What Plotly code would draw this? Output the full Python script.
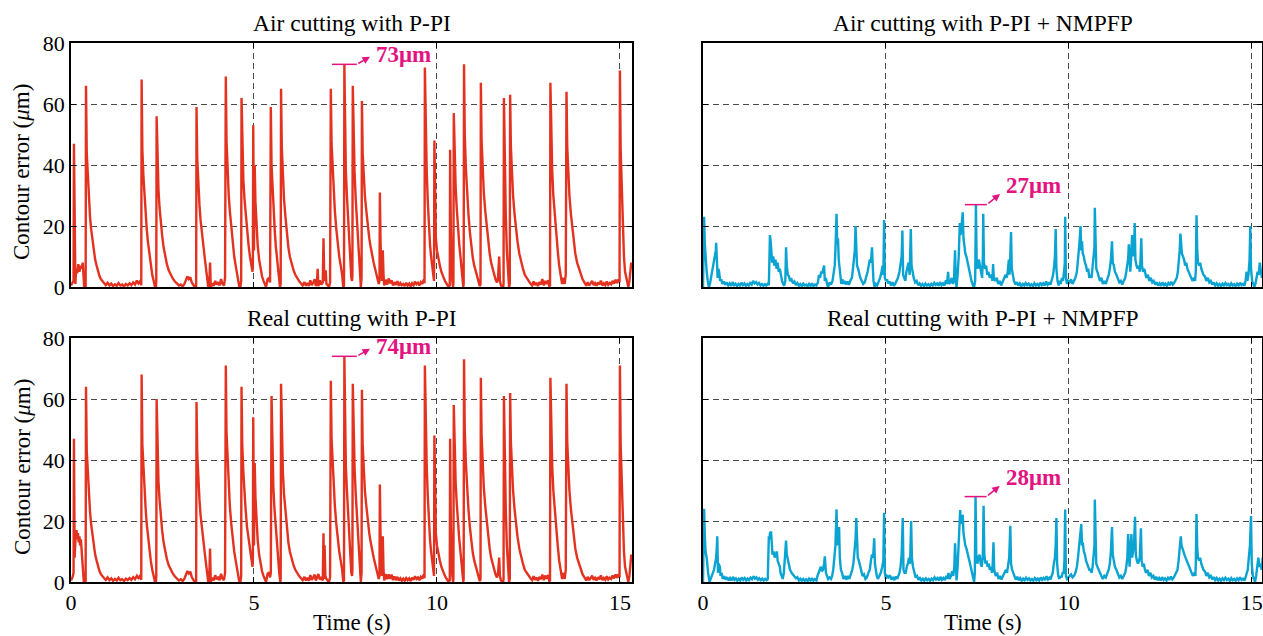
import plotly.graph_objects as go

# ---- measured contour error, (time s, error um) ----
air_ppi = [
    (0.00, 0.5), (0.04, 1.2), (0.07, 2), (0.08, 47), (0.10, 9), (0.12, 1), (0.14, 6), (0.17, 4.5),
    (0.20, 7.5), (0.23, 5), (0.26, 7), (0.29, 6), (0.32, 8), (0.34, 3), (0.36, 0), (0.40, 0),
    (0.41, 66), (0.43, 44), (0.46, 36), (0.49, 28), (0.52, 23), (0.55, 19), (0.58, 16), (0.62, 12),
    (0.66, 9), (0.70, 7), (0.74, 5), (0.78, 3.5), (0.82, 2.5), (0.86, 1.8), (0.90, 1.2),
    (0.95, 0.6), (1.00, 1.4), (1.05, 0.5), (1.10, 1.1), (1.15, 0.3), (1.20, 0.9), (1.25, 0.4),
    (1.30, 1.3), (1.35, 0.5), (1.40, 0.8), (1.45, 0.2), (1.50, 1.0), (1.55, 0.5), (1.60, 1.2),
    (1.65, 0.6), (1.70, 1.5), (1.75, 0.8), (1.80, 2.1), (1.84, 1.2), (1.88, 1.8), (1.92, 0.6),
    (1.93, 68), (1.95, 45), (1.98, 36), (2.01, 29), (2.04, 24), (2.07, 19), (2.10, 15), (2.14, 11),
    (2.18, 7), (2.22, 4), (2.26, 2), (2.29, 0.3), (2.32, 0), (2.33, 2),
    (2.34, 56), (2.36, 40), (2.39, 32), (2.42, 26), (2.45, 21), (2.49, 17), (2.53, 13), (2.57, 10),
    (2.62, 7.5), (2.67, 5.5), (2.72, 4), (2.78, 2.8), (2.84, 1.8), (2.90, 1.1), (2.95, 0.5),
    (3.00, 0.8), (3.05, 0.2), (3.10, 1.0), (3.14, 2.2), (3.18, 3.5), (3.22, 2.6), (3.26, 3.2),
    (3.30, 1.5), (3.34, 0.5), (3.38, 0), (3.42, 0),
    (3.43, 59), (3.45, 42), (3.48, 33), (3.51, 27), (3.54, 22), (3.58, 17), (3.62, 13), (3.66, 9),
    (3.70, 5), (3.73, 1), (3.75, 0), (3.78, 1.5), (3.80, 8), (3.82, 0), (3.86, 1.2), (3.90, 0.4),
    (3.94, 2), (3.98, 0.8), (4.02, 1.6), (4.06, 0.5), (4.10, 2.6), (4.14, 1.0), (4.18, 0.5), (4.21, 3),
    (4.23, 69), (4.25, 48), (4.28, 38), (4.31, 30), (4.34, 25), (4.38, 19), (4.42, 14), (4.46, 10),
    (4.50, 7), (4.54, 4), (4.57, 1.5), (4.60, 0), (4.63, 0), (4.65, 2),
    (4.66, 62), (4.68, 44), (4.71, 35), (4.74, 29), (4.77, 24), (4.81, 18), (4.85, 14), (4.89, 10),
    (4.93, 7), (4.96, 5), (4.97, 8),
    (4.98, 53), (5.00, 12), (5.01, 30), (5.02, 40), (5.04, 28), (5.07, 20), (5.10, 14), (5.14, 9),
    (5.18, 6), (5.22, 3.5), (5.26, 2), (5.30, 0.5), (5.33, 0), (5.37, 2.5), (5.41, 3), (5.44, 1.5),
    (5.46, 59), (5.48, 40), (5.51, 31), (5.54, 24), (5.57, 18), (5.60, 13), (5.64, 9), (5.68, 4),
    (5.71, 0), (5.73, 1),
    (5.74, 65), (5.76, 46), (5.79, 36), (5.82, 29), (5.86, 23), (5.90, 17), (5.94, 13), (5.98, 10),
    (6.03, 7.5), (6.08, 5.5), (6.13, 4), (6.18, 2.8), (6.23, 2), (6.28, 1.2), (6.33, 0.5), (6.38, 1.6),
    (6.42, 0.4), (6.46, 1.3), (6.50, 0.3), (6.54, 2.2), (6.58, 0.6), (6.62, 1.4), (6.66, 2.6),
    (6.69, 0.4), (6.72, 1), (6.74, 6), (6.76, 0.3), (6.80, 2.2), (6.84, 0.8), (6.88, 1.5),
    (6.90, 16), (6.92, 3), (6.94, 2), (6.96, 5.5), (6.98, 1), (7.02, 0.5), (7.05, 0), (7.08, 1.5),
    (7.10, 65), (7.12, 47), (7.15, 38), (7.18, 30), (7.21, 25), (7.25, 19), (7.29, 14), (7.33, 10),
    (7.37, 7), (7.41, 4), (7.44, 0), (7.46, 0.5),
    (7.47, 73), (7.49, 48), (7.51, 38), (7.54, 30), (7.57, 22), (7.60, 14), (7.63, 7), (7.66, 3),
    (7.68, 2), (7.69, 4),
    (7.70, 66), (7.72, 47), (7.75, 37), (7.78, 29), (7.81, 22), (7.84, 15), (7.87, 8), (7.90, 2),
    (7.92, 0), (7.94, 3),
    (7.95, 61), (7.97, 44), (8.00, 36), (8.03, 30), (8.07, 25), (8.11, 20), (8.15, 16), (8.19, 13),
    (8.23, 10), (8.27, 8), (8.31, 6), (8.35, 4), (8.38, 2.5), (8.41, 1), (8.43, 2),
    (8.44, 31), (8.46, 14), (8.48, 5), (8.50, 2), (8.51, 6), (8.52, 12), (8.54, 4), (8.56, 0.5),
    (8.60, 2.4), (8.64, 0.8), (8.68, 2.8), (8.72, 1.2), (8.76, 2.2), (8.80, 0.5), (8.84, 1.6),
    (8.88, 0.7), (8.92, 1.9), (8.96, 0.4), (9.00, 1.3), (9.04, 0.6), (9.08, 1.0), (9.12, 0.3),
    (9.16, 1.4), (9.20, 0.5), (9.24, 1.1), (9.28, 0.2), (9.32, 1.2), (9.36, 0.6), (9.40, 1.8),
    (9.44, 0.9), (9.48, 1.4), (9.52, 0.5), (9.56, 1.6), (9.60, 1.0), (9.64, 2.4), (9.66, 1.2),
    (9.67, 72), (9.69, 50), (9.72, 38), (9.75, 28), (9.78, 20), (9.81, 14), (9.84, 10), (9.87, 7),
    (9.90, 4), (9.92, 2),
    (9.93, 48), (9.95, 25), (9.97, 16), (10.00, 12), (10.04, 9), (10.08, 7), (10.12, 5), (10.16, 3.5),
    (10.20, 2.5), (10.24, 1.5), (10.28, 0.5), (10.32, 0), (10.35, 0.5),
    (10.36, 45), (10.38, 18), (10.40, 6), (10.42, 2), (10.44, 0), (10.45, 1),
    (10.46, 57), (10.48, 42), (10.51, 33), (10.54, 26), (10.57, 20), (10.61, 14), (10.65, 9),
    (10.69, 4), (10.72, 0), (10.73, 1),
    (10.74, 73), (10.76, 50), (10.79, 39), (10.82, 31), (10.86, 24), (10.90, 18), (10.94, 13),
    (10.98, 9.5), (11.02, 7), (11.06, 5), (11.10, 3), (11.14, 1.5), (11.17, 0.3), (11.19, 1),
    (11.20, 67), (11.22, 48), (11.25, 38), (11.28, 31), (11.32, 25), (11.36, 20), (11.40, 15),
    (11.44, 11), (11.48, 8), (11.52, 6), (11.56, 4), (11.60, 2.5), (11.64, 1.5), (11.67, 3),
    (11.70, 10), (11.72, 2), (11.75, 0.5), (11.78, 0), (11.81, 0), (11.82, 1),
    (11.83, 62), (11.85, 40), (11.88, 24), (11.91, 12), (11.94, 5), (11.97, 0), (11.99, 1),
    (12.00, 63), (12.02, 46), (12.05, 37), (12.08, 30), (12.12, 24), (12.16, 19), (12.20, 15),
    (12.25, 11), (12.30, 8), (12.35, 6), (12.40, 4), (12.45, 3), (12.50, 2), (12.55, 1.2),
    (12.60, 0.5), (12.64, 1.8), (12.68, 0.6), (12.72, 1.4), (12.76, 0.3), (12.80, 1.6), (12.84, 0.8),
    (12.88, 2.6), (12.92, 0.5), (12.96, 2.0), (13.00, 1.0), (13.04, 2.2), (13.07, 0.3), (13.09, 0.5),
    (13.10, 67), (13.12, 48), (13.15, 38), (13.18, 30), (13.22, 23), (13.26, 17), (13.30, 12),
    (13.34, 7), (13.38, 3), (13.42, 1), (13.46, 3), (13.49, 1), (13.52, 4),
    (13.54, 64), (13.56, 46), (13.59, 37), (13.62, 30), (13.66, 24), (13.70, 19), (13.74, 15),
    (13.78, 11), (13.83, 8), (13.88, 6), (13.93, 4), (13.98, 2.5), (14.03, 1.5), (14.08, 0.4),
    (14.12, 1.6), (14.16, 0.5), (14.20, 1.2), (14.24, 2.0), (14.28, 0.6), (14.32, 1.3), (14.36, 0.4),
    (14.40, 1.5), (14.44, 0.8), (14.48, 2.1), (14.52, 0.5), (14.56, 1.2), (14.60, 0.6), (14.64, 1.8),
    (14.68, 0.7), (14.72, 1.3), (14.76, 0.9), (14.80, 2.0), (14.84, 1.1), (14.88, 2.4), (14.92, 1.3),
    (14.96, 2.5), (14.99, 1.5),
    (15.00, 71), (15.02, 45), (15.05, 30), (15.08, 18), (15.11, 10), (15.14, 5), (15.17, 3),
    (15.20, 1.5), (15.23, 0), (15.26, 2), (15.29, 5), (15.31, 8), (15.33, 6),
]

real_ppi = [
    (0.00, 0.5), (0.04, 1.5), (0.07, 3), (0.08, 47), (0.10, 8), (0.11, 12), (0.13, 16), (0.15, 17),
    (0.17, 14), (0.19, 16), (0.21, 13), (0.23, 15), (0.25, 12), (0.27, 14), (0.29, 10), (0.31, 7),
    (0.33, 3), (0.35, 0), (0.40, 0),
    (0.41, 64), (0.43, 43), (0.46, 35), (0.49, 28), (0.52, 23), (0.55, 19), (0.58, 16), (0.62, 12),
    (0.66, 9), (0.70, 7), (0.74, 5), (0.78, 3.5), (0.82, 2.5), (0.86, 1.8), (0.90, 1.3),
    (0.95, 0.7), (1.00, 1.5), (1.05, 0.6), (1.10, 1.2), (1.15, 0.4), (1.20, 1.0), (1.25, 0.5),
    (1.30, 1.4), (1.35, 0.6), (1.40, 0.9), (1.45, 0.3), (1.50, 1.1), (1.55, 0.6), (1.60, 1.3),
    (1.65, 0.7), (1.70, 1.6), (1.75, 0.9), (1.80, 2.0), (1.84, 1.3), (1.88, 1.9), (1.92, 0.7),
    (1.93, 68), (1.95, 45), (1.98, 36), (2.01, 29), (2.04, 24), (2.07, 19), (2.10, 15), (2.14, 11),
    (2.18, 7), (2.22, 4), (2.26, 2), (2.29, 0.3), (2.32, 0), (2.33, 2),
    (2.34, 60), (2.36, 42), (2.39, 33), (2.42, 27), (2.45, 22), (2.49, 17), (2.53, 13), (2.57, 10),
    (2.62, 7.5), (2.67, 5.5), (2.72, 4), (2.78, 2.8), (2.84, 1.8), (2.90, 1.1), (2.95, 0.5),
    (3.00, 0.9), (3.05, 0.3), (3.10, 1.1), (3.14, 2.4), (3.18, 3.6), (3.22, 2.8), (3.26, 3.4),
    (3.30, 1.6), (3.34, 0.5), (3.38, 0), (3.42, 0),
    (3.43, 59), (3.45, 42), (3.48, 33), (3.51, 27), (3.54, 22), (3.58, 17), (3.62, 13), (3.66, 9),
    (3.70, 5), (3.73, 1), (3.75, 0), (3.78, 2), (3.80, 11), (3.82, 0), (3.86, 1.4), (3.90, 0.5),
    (3.94, 2.2), (3.98, 0.9), (4.02, 1.7), (4.06, 0.6), (4.10, 2.7), (4.14, 1.1), (4.18, 0.6), (4.21, 3),
    (4.23, 71), (4.25, 49), (4.28, 39), (4.31, 31), (4.34, 25), (4.38, 19), (4.42, 14), (4.46, 10),
    (4.50, 7), (4.54, 4), (4.57, 1.5), (4.60, 0), (4.63, 0), (4.65, 2),
    (4.66, 64), (4.68, 45), (4.71, 36), (4.74, 29), (4.77, 24), (4.81, 18), (4.85, 14), (4.89, 10),
    (4.93, 7), (4.96, 5), (4.97, 8),
    (4.98, 54), (5.00, 12), (5.01, 30), (5.02, 39), (5.04, 28), (5.07, 20), (5.10, 14), (5.14, 9),
    (5.18, 6), (5.22, 3.5), (5.26, 2), (5.30, 0.5), (5.33, 0), (5.37, 2.6), (5.41, 3.2), (5.44, 1.5),
    (5.46, 3),
    (5.48, 61), (5.50, 41), (5.53, 31), (5.56, 24), (5.59, 18), (5.62, 13), (5.66, 8), (5.69, 3),
    (5.72, 0), (5.73, 1),
    (5.74, 65), (5.76, 46), (5.79, 36), (5.82, 29), (5.86, 23), (5.90, 17), (5.94, 13), (5.98, 10),
    (6.03, 7.5), (6.08, 5.5), (6.13, 4), (6.18, 2.8), (6.23, 2), (6.28, 1.3), (6.33, 0.6), (6.38, 1.7),
    (6.42, 0.5), (6.46, 1.4), (6.50, 0.4), (6.54, 2.3), (6.58, 0.7), (6.62, 1.5), (6.66, 2.4),
    (6.69, 0.5), (6.72, 1.2), (6.76, 2.6), (6.80, 0.8), (6.84, 1.6), (6.88, 0.5),
    (6.90, 16), (6.91, 3), (6.92, 1), (6.93, 12), (6.95, 2), (6.98, 1), (7.02, 0.5), (7.05, 0),
    (7.08, 1.5),
    (7.10, 66), (7.12, 47), (7.15, 38), (7.18, 30), (7.21, 25), (7.25, 19), (7.29, 14), (7.33, 10),
    (7.37, 7), (7.41, 4), (7.44, 0), (7.46, 0.5),
    (7.47, 74), (7.49, 48), (7.51, 38), (7.54, 30), (7.57, 22), (7.60, 14), (7.63, 7), (7.66, 3),
    (7.68, 2), (7.69, 4),
    (7.70, 65), (7.72, 47), (7.75, 37), (7.78, 29), (7.81, 22), (7.84, 15), (7.87, 8), (7.90, 2),
    (7.92, 0), (7.94, 3),
    (7.95, 63), (7.97, 45), (8.00, 37), (8.03, 30), (8.07, 25), (8.11, 20), (8.15, 16), (8.19, 13),
    (8.23, 10), (8.27, 8), (8.31, 6), (8.35, 4), (8.38, 2.5), (8.41, 1), (8.43, 2),
    (8.44, 32), (8.46, 14), (8.48, 5), (8.50, 2), (8.51, 8), (8.52, 15), (8.54, 4), (8.56, 0.5),
    (8.60, 2.6), (8.64, 0.9), (8.68, 2.5), (8.72, 1.0), (8.76, 2.4), (8.80, 0.6), (8.84, 1.8),
    (8.88, 0.6), (8.92, 1.7), (8.96, 0.5), (9.00, 1.2), (9.04, 0.4), (9.08, 1.1), (9.12, 0.4),
    (9.16, 1.3), (9.20, 0.6), (9.24, 1.2), (9.28, 0.3), (9.32, 1.4), (9.36, 0.7), (9.40, 1.9),
    (9.44, 1.0), (9.48, 1.5), (9.52, 0.6), (9.56, 1.7), (9.60, 1.1), (9.64, 2.5), (9.66, 1.2),
    (9.67, 71), (9.69, 50), (9.72, 38), (9.75, 28), (9.78, 20), (9.81, 14), (9.84, 10), (9.87, 7),
    (9.90, 4), (9.92, 2),
    (9.93, 48), (9.95, 25), (9.97, 16), (10.00, 12), (10.04, 9), (10.08, 7), (10.12, 5), (10.16, 3.5),
    (10.20, 2.5), (10.24, 1.5), (10.28, 0.5), (10.32, 0), (10.35, 0.5),
    (10.36, 47), (10.38, 18), (10.40, 6), (10.42, 2), (10.44, 0), (10.45, 1),
    (10.46, 58), (10.48, 42), (10.51, 33), (10.54, 26), (10.57, 20), (10.61, 14), (10.65, 9),
    (10.69, 4), (10.72, 0), (10.73, 1),
    (10.74, 73), (10.76, 50), (10.79, 39), (10.82, 31), (10.86, 24), (10.90, 18), (10.94, 13),
    (10.98, 9.5), (11.02, 7), (11.06, 5), (11.10, 3), (11.14, 1.5), (11.17, 0.3), (11.19, 1),
    (11.20, 67), (11.22, 48), (11.25, 38), (11.28, 31), (11.32, 25), (11.36, 20), (11.40, 15),
    (11.44, 11), (11.48, 8), (11.52, 6), (11.56, 4), (11.60, 2.5), (11.64, 1.5), (11.67, 3),
    (11.70, 8), (11.72, 2), (11.75, 0.5), (11.78, 0), (11.81, 0), (11.82, 1),
    (11.83, 61), (11.85, 40), (11.88, 24), (11.91, 12), (11.94, 5), (11.97, 0), (11.99, 1),
    (12.00, 62), (12.02, 46), (12.05, 37), (12.08, 30), (12.12, 24), (12.16, 19), (12.20, 15),
    (12.25, 11), (12.30, 8), (12.35, 6), (12.40, 4), (12.45, 3), (12.50, 2), (12.55, 1.3),
    (12.60, 0.6), (12.64, 1.9), (12.68, 0.7), (12.72, 1.5), (12.76, 0.4), (12.80, 1.7), (12.84, 0.9),
    (12.88, 2.4), (12.92, 0.6), (12.96, 2.1), (13.00, 1.1), (13.04, 2.3), (13.07, 0.3), (13.09, 0.5),
    (13.10, 67), (13.12, 48), (13.15, 38), (13.18, 30), (13.22, 23), (13.26, 17), (13.30, 12),
    (13.34, 7), (13.38, 3), (13.42, 1), (13.46, 3), (13.49, 1), (13.52, 4),
    (13.54, 65), (13.56, 46), (13.59, 37), (13.62, 30), (13.66, 24), (13.70, 19), (13.74, 15),
    (13.78, 11), (13.83, 8), (13.88, 6), (13.93, 4), (13.98, 2.5), (14.03, 1.5), (14.08, 0.5),
    (14.12, 1.7), (14.16, 0.6), (14.20, 1.3), (14.24, 2.1), (14.28, 0.7), (14.32, 1.4), (14.36, 0.5),
    (14.40, 1.6), (14.44, 0.9), (14.48, 2.2), (14.52, 0.6), (14.56, 1.3), (14.60, 0.7), (14.64, 1.9),
    (14.68, 0.8), (14.72, 1.4), (14.76, 1.0), (14.80, 2.1), (14.84, 1.2), (14.88, 2.5), (14.92, 1.4),
    (14.96, 2.6), (14.99, 1.5),
    (15.00, 71), (15.02, 45), (15.05, 30), (15.08, 18), (15.11, 10), (15.14, 5), (15.17, 3),
    (15.20, 1.5), (15.23, 0), (15.26, 2), (15.29, 6), (15.31, 9), (15.33, 7),
]

air_nmpfp = [
    (0.00, 0), (0.02, 10), (0.03, 23), (0.05, 14), (0.07, 9), (0.10, 5), (0.13, 2), (0.16, 0),
    (0.19, 1), (0.22, 3), (0.25, 6), (0.28, 8), (0.31, 9), (0.33, 11), (0.35, 12), (0.36, 14.5),
    (0.38, 6), (0.40, 3), (0.42, 6), (0.44, 5), (0.47, 2), (0.50, 2.5), (0.53, 1), (0.57, 1.8),
    (0.61, 0.7), (0.65, 1.5), (0.69, 0.5), (0.73, 1.2), (0.77, 0.4), (0.81, 1.6), (0.85, 0.6),
    (0.89, 1.1), (0.93, 0.3), (0.97, 1.0), (1.01, 0.5), (1.05, 1.4), (1.09, 0.6), (1.13, 1.2),
    (1.17, 0.4), (1.21, 1.0), (1.25, 0.5), (1.29, 1.3), (1.33, 0.8), (1.37, 2.0), (1.41, 1.2),
    (1.45, 1.6), (1.49, 0.8), (1.53, 1.3), (1.57, 0.5), (1.61, 1.0), (1.65, 0.4), (1.69, 0.9),
    (1.73, 0.5), (1.77, 1.1), (1.80, 0.6),
    (1.82, 14), (1.83, 17), (1.85, 15), (1.87, 12), (1.89, 8), (1.92, 10), (1.95, 7), (1.98, 9),
    (2.01, 6), (2.04, 8), (2.07, 5), (2.10, 6), (2.13, 3), (2.16, 2), (2.19, 1), (2.22, 0.5),
    (2.25, 2), (2.27, 13), (2.29, 7), (2.32, 4), (2.35, 3.5), (2.38, 2), (2.42, 2.5), (2.46, 1.2),
    (2.50, 1.8), (2.54, 0.6), (2.58, 1.3), (2.62, 0.4), (2.66, 1.0), (2.70, 0.3), (2.74, 1.1),
    (2.78, 0.5), (2.82, 0.8), (2.86, 0.2), (2.90, 1.0), (2.94, 0.4), (2.98, 1.2), (3.02, 0.3),
    (3.06, 0.8), (3.10, 0.5), (3.14, 1.5),
    (3.17, 4), (3.20, 3), (3.23, 5), (3.26, 4.5), (3.29, 6), (3.31, 7), (3.33, 2), (3.36, 3),
    (3.39, 1), (3.42, 0), (3.46, 1.5), (3.50, 0.8), (3.54, 2), (3.57, 4), (3.60, 7), (3.62, 12),
    (3.64, 18), (3.65, 24), (3.67, 14), (3.69, 16), (3.71, 9), (3.73, 6), (3.75, 3), (3.78, 1),
    (3.81, 2.5), (3.84, 1), (3.87, 2), (3.91, 0.8), (3.95, 1.8), (3.99, 0.7), (4.03, 2.2), (4.07, 3),
    (4.10, 6), (4.13, 9), (4.15, 12), (4.17, 20), (4.19, 9), (4.21, 7), (4.24, 6), (4.27, 4),
    (4.30, 3), (4.34, 2), (4.38, 1), (4.42, 1.5), (4.46, 3), (4.50, 5), (4.53, 7), (4.56, 9),
    (4.59, 8), (4.62, 13), (4.64, 7), (4.66, 2), (4.69, 0), (4.72, 1), (4.76, 0.5), (4.80, 1.5),
    (4.84, 3), (4.88, 5), (4.91, 7), (4.93, 4), (4.95, 22), (4.97, 3), (5.00, 2), (5.03, 2.5),
    (5.06, 1.2), (5.10, 1.8), (5.14, 0.5), (5.18, 1.6), (5.22, 0.4), (5.26, 1.2), (5.30, 2),
    (5.33, 3), (5.37, 5), (5.40, 7), (5.43, 10), (5.45, 18.5), (5.47, 4), (5.50, 3), (5.53, 2),
    (5.56, 5), (5.59, 7), (5.62, 8), (5.65, 4), (5.68, 19), (5.70, 7), (5.73, 4), (5.76, 3),
    (5.80, 1.5), (5.84, 2), (5.88, 0.6), (5.92, 1.2), (5.96, 0.4), (6.00, 1.0), (6.04, 0.3),
    (6.08, 1.1), (6.12, 0.5), (6.16, 0.9), (6.20, 0.3), (6.24, 1.0), (6.28, 0.5), (6.32, 1.4),
    (6.36, 0.7), (6.40, 1.2), (6.44, 0.4), (6.48, 1.6), (6.52, 0.6), (6.56, 1.2), (6.60, 0.5),
    (6.64, 2.2), (6.67, 1), (6.70, 5), (6.72, 1), (6.76, 1.5), (6.80, 3), (6.83, 1), (6.86, 2),
    (6.89, 12), (6.91, 2), (6.93, 0), (6.96, 4), (6.99, 10), (7.02, 21), (7.04, 17), (7.06, 19),
    (7.08, 22), (7.10, 24.5), (7.12, 16), (7.14, 13), (7.17, 11), (7.20, 10), (7.23, 8), (7.26, 6),
    (7.30, 4), (7.34, 2), (7.38, 0.5), (7.41, 0), (7.44, 2),
    (7.46, 27), (7.48, 8), (7.51, 6), (7.54, 9), (7.57, 7), (7.60, 5), (7.63, 3), (7.65, 10),
    (7.66, 24), (7.68, 8), (7.71, 6), (7.74, 7), (7.77, 4), (7.80, 5), (7.84, 3), (7.88, 4),
    (7.91, 2), (7.93, 7.5), (7.95, 3), (7.99, 2), (8.03, 3), (8.07, 1), (8.11, 2), (8.15, 0.5),
    (8.19, 1.5), (8.23, 2.5), (8.27, 4), (8.30, 3), (8.33, 5), (8.36, 9), (8.38, 4), (8.40, 10),
    (8.42, 18), (8.44, 6), (8.47, 3), (8.50, 2), (8.54, 0.8), (8.58, 1.6), (8.62, 0.5), (8.66, 1.2),
    (8.70, 0.3), (8.74, 1.0), (8.78, 0.5), (8.82, 1.3), (8.86, 0.6), (8.90, 1.1), (8.94, 0.4),
    (8.98, 0.9), (9.02, 0.3), (9.06, 1.2), (9.10, 0.5), (9.14, 1.0), (9.18, 0.4), (9.22, 1.4),
    (9.26, 0.6), (9.30, 1.2), (9.34, 0.5), (9.38, 1.8), (9.42, 0.7), (9.46, 1.3), (9.50, 0.8),
    (9.54, 2.5), (9.57, 4), (9.60, 7), (9.62, 10), (9.64, 19), (9.66, 6), (9.69, 2), (9.72, 0.5),
    (9.75, 2), (9.78, 1), (9.81, 3), (9.84, 2), (9.87, 5), (9.89, 8), (9.90, 23), (9.92, 3),
    (9.95, 1), (9.98, 2), (10.02, 1.5), (10.06, 2.5), (10.10, 1), (10.14, 2), (10.18, 3), (10.22, 5),
    (10.25, 8), (10.28, 13), (10.30, 16), (10.32, 20), (10.34, 12), (10.36, 15), (10.38, 11),
    (10.41, 10), (10.44, 8), (10.47, 7), (10.50, 5), (10.53, 6), (10.56, 3), (10.59, 4), (10.62, 3),
    (10.65, 6), (10.68, 9), (10.70, 13), (10.71, 26), (10.73, 9), (10.75, 6), (10.78, 5), (10.81, 4),
    (10.85, 2), (10.89, 3), (10.93, 1), (10.97, 2), (11.01, 1), (11.05, 2.5), (11.09, 4), (11.12, 6),
    (11.15, 9), (11.18, 15), (11.20, 8), (11.23, 7), (11.26, 5), (11.30, 4), (11.34, 3),
    (11.38, 1.5), (11.42, 2), (11.46, 0.8), (11.50, 2), (11.54, 3), (11.57, 5), (11.60, 7),
    (11.62, 9), (11.64, 14), (11.66, 6), (11.68, 5), (11.70, 9), (11.72, 14), (11.73, 17),
    (11.75, 10), (11.77, 13), (11.79, 15), (11.80, 21), (11.82, 9), (11.85, 7), (11.88, 6),
    (11.91, 7), (11.94, 5), (11.96, 9), (11.98, 16), (12.00, 7), (12.03, 5), (12.06, 6), (12.09, 4),
    (12.12, 3), (12.16, 4), (12.20, 2), (12.24, 3), (12.28, 1.5), (12.32, 2), (12.36, 0.8),
    (12.40, 1.6), (12.44, 0.5), (12.48, 1.2), (12.52, 0.4), (12.56, 1.5), (12.60, 0.6), (12.64, 1.1),
    (12.68, 0.4), (12.72, 1.3), (12.76, 0.6), (12.80, 1.7), (12.84, 0.8), (12.88, 1.4), (12.92, 2.5),
    (12.95, 3), (12.98, 5), (13.01, 8), (13.03, 12), (13.05, 17.5), (13.07, 13), (13.09, 11),
    (13.12, 10), (13.15, 9), (13.18, 7), (13.21, 8), (13.24, 6), (13.27, 5), (13.30, 4), (13.34, 3),
    (13.38, 2), (13.42, 3), (13.45, 2), (13.47, 5), (13.49, 23.5), (13.51, 12), (13.53, 8),
    (13.56, 7), (13.59, 8), (13.62, 6), (13.65, 5), (13.68, 4), (13.72, 3.5), (13.76, 2), (13.80, 3),
    (13.84, 1.5), (13.88, 2), (13.92, 0.8), (13.96, 1.5), (14.00, 0.5), (14.04, 1.2), (14.08, 0.4),
    (14.12, 1.0), (14.16, 0.3), (14.20, 1.1), (14.24, 0.5), (14.28, 1.3), (14.32, 0.6), (14.36, 1.0),
    (14.40, 0.3), (14.44, 1.2), (14.48, 0.5), (14.52, 0.9), (14.56, 0.3), (14.60, 1.1), (14.64, 0.5),
    (14.68, 1.4), (14.72, 0.6), (14.76, 1.0), (14.80, 0.4), (14.83, 2), (14.86, 5), (14.88, 2),
    (14.91, 4), (14.94, 9), (14.96, 20), (14.98, 6), (15.01, 2), (15.04, 1), (15.07, 0), (15.10, 1),
    (15.13, 3), (15.16, 5), (15.19, 4), (15.22, 8), (15.25, 5), (15.28, 3), (15.31, 6), (15.33, 7),
]

real_nmpfp = [
    (0.00, 0), (0.02, 12), (0.03, 24), (0.05, 15), (0.07, 10), (0.10, 8), (0.12, 5), (0.14, 3),
    (0.18, 0), (0.21, 1), (0.24, 2), (0.27, 3), (0.30, 4), (0.33, 6), (0.36, 8), (0.38, 12),
    (0.39, 15), (0.41, 3), (0.43, 6), (0.46, 5), (0.48, 2), (0.51, 3), (0.54, 1), (0.58, 1.9),
    (0.62, 0.8), (0.66, 1.6), (0.70, 0.5), (0.74, 1.3), (0.78, 0.5), (0.82, 1.7), (0.86, 0.7),
    (0.90, 1.2), (0.94, 0.4), (0.98, 1.1), (1.02, 0.5), (1.06, 1.5), (1.10, 0.7), (1.14, 1.3),
    (1.18, 0.5), (1.22, 1.1), (1.26, 0.6), (1.30, 1.4), (1.34, 0.9), (1.38, 1.9), (1.42, 1.1),
    (1.46, 1.5), (1.50, 0.7), (1.54, 1.2), (1.58, 0.6), (1.62, 1.1), (1.66, 0.5), (1.70, 1.0),
    (1.74, 0.6), (1.77, 1.0),
    (1.79, 8), (1.80, 15), (1.82, 14), (1.83, 16), (1.86, 16.5), (1.88, 11), (1.90, 9), (1.93, 10),
    (1.96, 8), (1.99, 9), (2.02, 10), (2.04, 7), (2.07, 6), (2.10, 5), (2.12, 3), (2.15, 2),
    (2.18, 1), (2.21, 3), (2.24, 8), (2.27, 13.6), (2.29, 9), (2.32, 7), (2.35, 6), (2.38, 4),
    (2.42, 3), (2.46, 2.5), (2.50, 2), (2.54, 1.2), (2.58, 1.6), (2.62, 0.5), (2.66, 1.1),
    (2.70, 0.4), (2.74, 1.0), (2.78, 0.4), (2.82, 0.9), (2.86, 0.3), (2.90, 1.1), (2.94, 0.5),
    (2.98, 1.3), (3.02, 0.4), (3.06, 0.9), (3.10, 0.5),
    (3.13, 2), (3.16, 3), (3.19, 4), (3.22, 5), (3.25, 3.5), (3.28, 4), (3.31, 6), (3.33, 8.4),
    (3.36, 3), (3.39, 2), (3.42, 1), (3.46, 1.5), (3.50, 1), (3.53, 2), (3.56, 4), (3.59, 8),
    (3.62, 12), (3.65, 23.8), (3.67, 12), (3.69, 14), (3.72, 18), (3.74, 8), (3.77, 4), (3.80, 3),
    (3.84, 1), (3.88, 2), (3.92, 0.8), (3.96, 2), (4.00, 1), (4.04, 2.5), (4.08, 4), (4.11, 6),
    (4.14, 10), (4.17, 14), (4.19, 21), (4.21, 10), (4.23, 8), (4.26, 7), (4.29, 5), (4.32, 4),
    (4.36, 2), (4.40, 2.5), (4.44, 1), (4.48, 1.5), (4.52, 3), (4.56, 4), (4.59, 7), (4.62, 9),
    (4.65, 8), (4.68, 14.3), (4.70, 6), (4.72, 4), (4.75, 2), (4.78, 1), (4.82, 2), (4.86, 3),
    (4.90, 5), (4.93, 7), (4.95, 22.7), (4.97, 3), (5.00, 1), (5.03, 2), (5.07, 1.5), (5.11, 2.2),
    (5.15, 0.8), (5.19, 1.6), (5.23, 0.6), (5.27, 1.8), (5.31, 1), (5.34, 2), (5.37, 3), (5.40, 5),
    (5.43, 9), (5.46, 21), (5.48, 4), (5.51, 3), (5.54, 3), (5.57, 5), (5.60, 6), (5.63, 8),
    (5.66, 6), (5.69, 20), (5.71, 8), (5.74, 5), (5.77, 3), (5.81, 1.5), (5.85, 2), (5.89, 0.7),
    (5.93, 1.3), (5.97, 0.5), (6.01, 1.1), (6.05, 0.4), (6.09, 1.2), (6.13, 0.6), (6.17, 1.0),
    (6.21, 0.4), (6.25, 1.1), (6.29, 0.6), (6.33, 1.5), (6.37, 0.8), (6.41, 1.3), (6.45, 0.5),
    (6.49, 1.7), (6.53, 0.7), (6.57, 1.3), (6.61, 0.6), (6.65, 2.0), (6.68, 1), (6.71, 3),
    (6.74, 1), (6.78, 2), (6.81, 3.5), (6.84, 2), (6.87, 5), (6.89, 12.7), (6.91, 2), (6.93, 0.5),
    (6.96, 5), (6.99, 12), (7.01, 20), (7.03, 23.6), (7.05, 19), (7.07, 20), (7.10, 22),
    (7.12, 16), (7.14, 14), (7.17, 12), (7.20, 11), (7.23, 9), (7.26, 8), (7.30, 6), (7.33, 4),
    (7.36, 3), (7.39, 1), (7.41, 0), (7.43, 3),
    (7.45, 28), (7.47, 9), (7.50, 6), (7.53, 8), (7.56, 9), (7.59, 6), (7.62, 5), (7.65, 9),
    (7.67, 25), (7.69, 9), (7.72, 6), (7.75, 7), (7.78, 5), (7.81, 6), (7.84, 4), (7.87, 5),
    (7.90, 3), (7.92, 6), (7.94, 13), (7.96, 4), (8.00, 2), (8.04, 3), (8.08, 1), (8.12, 2),
    (8.16, 0.8), (8.20, 2), (8.24, 3), (8.28, 4), (8.31, 3), (8.34, 5), (8.37, 8), (8.40, 18.4),
    (8.42, 6), (8.45, 4), (8.48, 3), (8.51, 2), (8.55, 0.8), (8.59, 1.7), (8.63, 0.6), (8.67, 1.3),
    (8.71, 0.4), (8.75, 1.1), (8.79, 0.6), (8.83, 1.4), (8.87, 0.7), (8.91, 1.2), (8.95, 0.5),
    (8.99, 1.0), (9.03, 0.4), (9.07, 1.3), (9.11, 0.6), (9.15, 1.1), (9.19, 0.5), (9.23, 1.5),
    (9.27, 0.7), (9.31, 1.3), (9.35, 0.6), (9.39, 1.9), (9.43, 0.8), (9.47, 1.4), (9.50, 0.9),
    (9.53, 2), (9.56, 3), (9.59, 6), (9.62, 8), (9.64, 12), (9.66, 21), (9.68, 6), (9.71, 2),
    (9.74, 1), (9.77, 2), (9.80, 1.5), (9.83, 3), (9.86, 3), (9.88, 7), (9.90, 23.8), (9.92, 2),
    (9.95, 1), (9.98, 1.5), (10.02, 2), (10.06, 2.5), (10.10, 1.5), (10.14, 2), (10.18, 3),
    (10.22, 5), (10.25, 8), (10.28, 12), (10.30, 14), (10.32, 16), (10.34, 19), (10.36, 12),
    (10.38, 13), (10.41, 10), (10.44, 9), (10.47, 7), (10.50, 6), (10.53, 5), (10.56, 4),
    (10.59, 4), (10.62, 3), (10.65, 5), (10.68, 8), (10.70, 12), (10.71, 27), (10.73, 9),
    (10.75, 6), (10.78, 5), (10.81, 4), (10.85, 3), (10.89, 2), (10.93, 1), (10.97, 2),
    (11.01, 1.5), (11.05, 3), (11.09, 4), (11.12, 6), (11.15, 10), (11.18, 18), (11.20, 9),
    (11.23, 7), (11.26, 5), (11.30, 4), (11.34, 3), (11.38, 1.5), (11.42, 2), (11.46, 1),
    (11.50, 2), (11.54, 3), (11.57, 5), (11.60, 8), (11.62, 15.7), (11.64, 6), (11.66, 5),
    (11.68, 10), (11.71, 15.7), (11.73, 8), (11.76, 10), (11.78, 12), (11.81, 21.4), (11.83, 9),
    (11.86, 7), (11.89, 6), (11.92, 7), (11.94, 8), (11.97, 17.6), (11.99, 7), (12.02, 5),
    (12.05, 6), (12.08, 4), (12.11, 3), (12.15, 4), (12.19, 2), (12.23, 3), (12.27, 1.5),
    (12.31, 2), (12.35, 0.8), (12.39, 1.7), (12.43, 0.6), (12.47, 1.3), (12.51, 0.5), (12.55, 1.6),
    (12.59, 0.7), (12.63, 1.2), (12.67, 0.5), (12.71, 1.4), (12.75, 0.7), (12.79, 1.8), (12.83, 0.9),
    (12.87, 1.5), (12.91, 2.4), (12.94, 3), (12.97, 4), (13.00, 7), (13.02, 10), (13.04, 13),
    (13.06, 15), (13.08, 12), (13.10, 11), (13.13, 10), (13.16, 9), (13.19, 8), (13.22, 7),
    (13.25, 6), (13.28, 5), (13.31, 4), (13.35, 3), (13.39, 2), (13.43, 3), (13.46, 2), (13.47, 6),
    (13.49, 22.3), (13.51, 11), (13.53, 8), (13.56, 7), (13.59, 8), (13.62, 6), (13.65, 5),
    (13.68, 4), (13.72, 3.5), (13.76, 2), (13.80, 3), (13.84, 1.5), (13.88, 2), (13.92, 0.9),
    (13.96, 1.6), (14.00, 0.6), (14.04, 1.3), (14.08, 0.5), (14.12, 1.1), (14.16, 0.4), (14.20, 1.2),
    (14.24, 0.6), (14.28, 1.4), (14.32, 0.7), (14.36, 1.1), (14.40, 0.4), (14.44, 1.3), (14.48, 0.6),
    (14.52, 1.0), (14.56, 0.4), (14.60, 1.2), (14.64, 0.6), (14.68, 1.5), (14.72, 0.7), (14.76, 1.1),
    (14.80, 0.5), (14.83, 1.5), (14.86, 3), (14.89, 4), (14.92, 8), (14.95, 12), (14.98, 21.6),
    (15.00, 6), (15.03, 2), (15.06, 1), (15.09, 0), (15.12, 2), (15.15, 5), (15.18, 8), (15.21, 5),
    (15.24, 6), (15.27, 4), (15.30, 8), (15.33, 7),
]

panel_titles = [
    "Air cutting with P-PI", "Air cutting with P-PI + NMPFP",
    "Real cutting with P-PI", "Real cutting with P-PI + NMPFP",
]
peak_labels = [73, 27, 74, 28]
x_ticks = [0, 5, 10, 15]
y_ticks = [0, 20, 40, 60, 80]

RED = "#E3321F"
BLUE = "#0AA3D2"
PINK = "#E4137F"
FONT = "Liberation Serif, Times New Roman, serif"
W, H = 1263, 636


def px(x):
    return x / W


def py(y):
    return 1 - y / H


# panel boxes in page pixels: (left, right, top, bottom)
boxes = [(71, 632, 43, 287), (703, 1262, 43, 287), (71, 632, 338, 582), (703, 1262, 338, 582)]
x_ranges = [[0, 15.33], [0, 15.28], [0, 15.33], [0, 15.28]]
series = [air_ppi, air_nmpfp, real_ppi, real_nmpfp]
colors = [RED, BLUE, RED, BLUE]

fig = go.Figure()
layout = dict(
    template="none",
    width=W, height=H, margin=dict(l=0, r=0, t=0, b=0, pad=0, autoexpand=False),
    paper_bgcolor="white", plot_bgcolor="white", showlegend=False,
    font=dict(family=FONT, size=22, color="black"),
)

annotations = []
shapes = []
for i, (pts, col) in enumerate(zip(series, colors)):
    n = i + 1
    xa = "x" if n == 1 else f"x{n}"
    ya = "y" if n == 1 else f"y{n}"
    t_vals = [p[0] for p in pts]
    e_vals = [p[1] for p in pts]
    fig.add_trace(go.Scatter(x=t_vals, y=e_vals, mode="lines", line=dict(color=col, width=2.4),
                             xaxis=xa, yaxis=ya, hoverinfo="skip"))
    l, r, t, b = boxes[i]
    bottom_row = i >= 2
    left_col = i % 2 == 0
    axis_common = dict(
        ticks="inside", ticklen=5, tickwidth=1, tickcolor="black",
        showline=True, linecolor="black", linewidth=1.5, mirror="ticks",
        showgrid=True, gridcolor="#4a4a4a", gridwidth=1, griddash="6px,4px",
        zeroline=False, automargin=False, ticklabeloverflow="allow",
        tickfont=dict(size=22, family=FONT, color="black"),
    )
    layout[f"xaxis{n if n > 1 else ''}"] = dict(
        domain=[px(l), px(r)], anchor=ya, range=x_ranges[i], tickvals=x_ticks,
        showticklabels=bottom_row, **axis_common,
    )
    layout[f"yaxis{n if n > 1 else ''}"] = dict(
        domain=[py(b), py(t)], anchor=xa, range=[0, 80], tickvals=y_ticks,
        showticklabels=left_col, **axis_common,
    )
    # panel title
    annotations.append(dict(text=panel_titles[i], xref="paper", yref="paper",
                            x=px((l + r) / 2), y=py(t - 20), xanchor="center", yanchor="middle",
                            showarrow=False, font=dict(size=23.5, family=FONT)))
    if bottom_row:
        annotations.append(dict(text="Time (s)", xref="paper", yref="paper",
                                x=px((l + r) / 2), y=py(622), xanchor="center", yanchor="middle",
                                showarrow=False, font=dict(size=23, family=FONT)))
    if left_col:
        annotations.append(dict(text="Contour error (<i>μ</i>m)", xref="paper", yref="paper",
                                x=px(22), y=py((t + b) / 2 + 7), xanchor="center", yanchor="middle",
                                textangle=-90, showarrow=False, font=dict(size=23, family=FONT)))

    # peak marker: flat bar over the largest spike, kinked arrow to the label
    peak = peak_labels[i]
    t_peak = t_vals[e_vals.index(max(e_vals))]
    bar_half = 0.34 if left_col else 0.30
    rise = 2.5 if left_col else 3.5
    shapes.append(dict(type="line", xref=xa, yref=ya, x0=t_peak - bar_half, x1=t_peak + bar_half,
                       y0=peak, y1=peak, line=dict(color=PINK, width=1.5)))
    annotations.append(dict(text="", xref=xa, yref=ya, axref=xa, ayref=ya,
                            x=t_peak + bar_half + 0.36, y=peak + rise,
                            ax=t_peak + bar_half, ay=peak, showarrow=True,
                            arrowhead=2, arrowsize=1, arrowwidth=1.5, arrowcolor=PINK))
    annotations.append(dict(text=f"<b>{peak}μm</b>", xref=xa, yref=ya,
                            x=t_peak + bar_half + 0.48, y=peak + rise + 0.8 + (2 if not left_col else 0),
                            xanchor="left", yanchor="middle", showarrow=False,
                            font=dict(size=23, family=FONT, color=PINK)))

layout["annotations"] = annotations
layout["shapes"] = shapes
fig.update_layout(**layout)
fig.write_html("out.html")
